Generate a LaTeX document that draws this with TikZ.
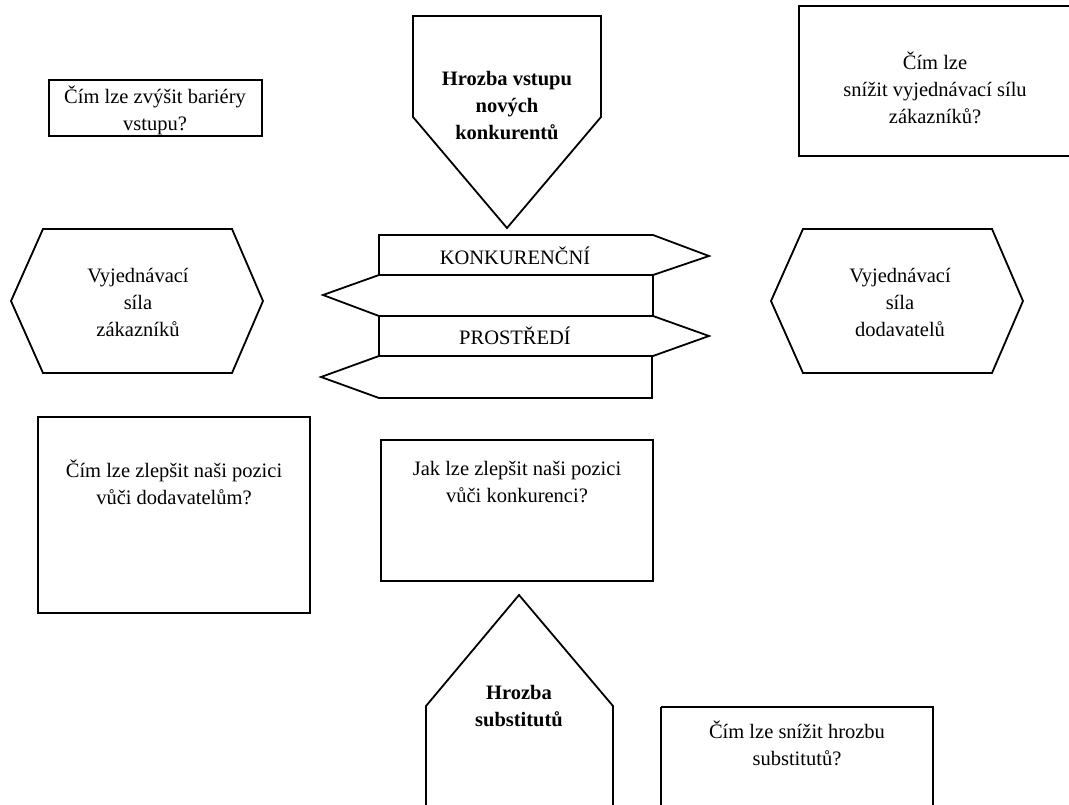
\documentclass[tikz,border=0pt]{standalone}
\usepackage{fontspec}
\setmainfont{Liberation Serif}
\begin{document}
\begin{tikzpicture}[x=1pt,y=-1pt,
  outline/.style={draw=black,line width=1.8pt,line join=miter},
  txt/.style={align=center,inner sep=0pt,font=\fontsize{20.5}{27}\selectfont},
  boldtxt/.style={align=center,inner sep=0pt,font=\fontsize{20.5}{27}\selectfont\bfseries}]
\useasboundingbox (0,0) rectangle (1069,805);
\clip (0,0) rectangle (1069,805);

% question boxes
\draw[outline] (49,80) rectangle (262,136);
\draw[outline] (799,6) rectangle (1080,156);
\draw[outline] (38,417) rectangle (310,613);
\draw[outline] (381,440) rectangle (653,581);
\draw[outline] (661,707) -- (661,815) (661,707) -- (933,707) -- (933,815);

% threat of new entrants (pointing down)
\draw[outline] (413,16) -- (601,16) -- (601,117) -- (507,228) -- (413,117) -- cycle;
% threat of substitutes (pointing up, open at the bottom)
\draw[outline] (426,815) -- (426,706) -- (519,595) -- (613,706) -- (613,815);

% bargaining power hexagons
\draw[outline] (11,301) -- (43,229) -- (232,229) -- (263,301) -- (232,373) -- (43,373) -- cycle;
\draw[outline] (771,301) -- (803,229) -- (992,229) -- (1023,301) -- (992,373) -- (803,373) -- cycle;

% competitive environment bands
\draw[outline] (379,235) -- (653,235) -- (709,256) -- (653,275) -- (379,275) -- cycle;
\draw[outline] (653,275) -- (653,316) -- (379,316) -- (323,295) -- (379,275) -- cycle;
\draw[outline] (379,316) -- (653,316) -- (709,336) -- (653,356) -- (379,356) -- cycle;
\draw[outline] (652,356) -- (652,398) -- (379,398) -- (321,377) -- (379,356) -- cycle;

% texts
\node[txt] (barriers) at (155,110) {Čím lze zvýšit bariéry\\vstupu?};
\node[boldtxt] (entrants) at (507,106) {Hrozba vstupu\\nových\\konkurentů};
\node[txt] (custq) at (935,88) {Čím lze\\snížit vyjednávací sílu\\zákazníků?};
\node[txt] (customers) at (138,302) {Vyjednávací\\síla\\zákazníků};
\node[txt] (suppliers) at (900,302) {Vyjednávací\\síla\\dodavatelů};
\node[txt] (konk) at (515,256) {KONKURENČNÍ};
\node[txt] (prost) at (515,336) {PROSTŘEDÍ};
\node[txt] (suppq) at (174,482) {Čím lze zlepšit naši pozici\\vůči dodavatelům?};
\node[txt] (compq) at (517,482) {Jak lze zlepšit naši pozici\\vůči konkurenci?};
\node[boldtxt] (subst) at (519,706) {Hrozba\\substitutů};
\node[txt] (substq) at (797,743) {Čím lze snížit hrozbu\\substitutů?};
\end{tikzpicture}
\end{document}
